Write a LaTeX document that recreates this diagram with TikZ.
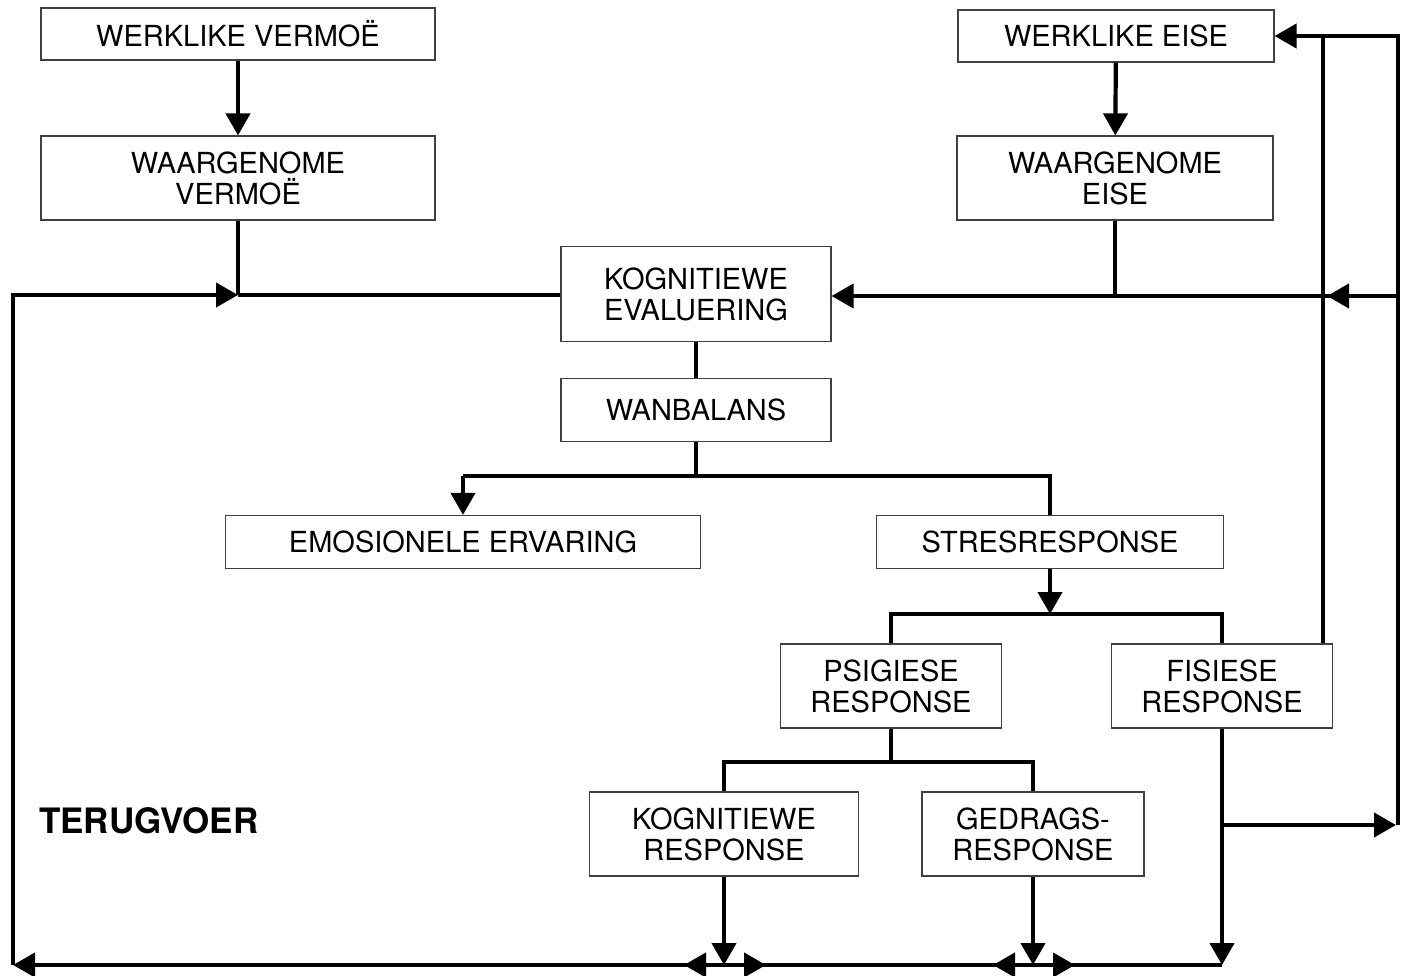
\documentclass[tikz,border=0pt]{standalone}
\usepackage{fontspec}
\setmainfont{TeX Gyre Heros}
\usetikzlibrary{arrows.meta,calc}

\begin{document}
\begin{tikzpicture}[x=1pt,y=-1pt,
        box/.style={draw=black!75,line width=1.2pt,inner sep=0pt,align=center,
                    font=\fontsize{29}{31}\selectfont},
        line/.style={line width=4.2pt},
        arr/.style={line,-{Triangle[length=22pt,width=24pt]}}]
        \useasboundingbox (0,0) rectangle (1410,976);

        \node[box,minimum width=394pt,minimum height=52pt] (wvermoe) at (238,34) {WERKLIKE VERMOË};
        \node[box,minimum width=394pt,minimum height=84pt] (pvermoe) at (238,178) {WAARGENOME\\VERMOË};
        \node[box,minimum width=316pt,minimum height=52pt] (weise) at (1116,36) {WERKLIKE EISE};
        \node[box,minimum width=316pt,minimum height=84pt] (peise) at (1115,178) {WAARGENOME\\EISE};
        \node[box,minimum width=270pt,minimum height=95pt] (evaluering) at (696,294) {KOGNITIEWE\\EVALUERING};
        \node[box,minimum width=270pt,minimum height=63pt] (wanbalans) at (696,410) {WANBALANS};
        \node[box,minimum width=475pt,minimum height=53pt] (emosie) at (463,542) {EMOSIONELE ERVARING};
        \node[box,minimum width=347pt,minimum height=53pt] (stres) at (1050,542) {STRESRESPONSE};
        \node[box,minimum width=221pt,minimum height=84pt] (psig) at (891,686) {PSIGIESE\\RESPONSE};
        \node[box,minimum width=221pt,minimum height=84pt] (fis) at (1222,686) {FISIESE\\RESPONSE};
        \node[box,minimum width=269pt,minimum height=84pt] (kresp) at (724,834) {KOGNITIEWE\\RESPONSE};
        \node[box,minimum width=222pt,minimum height=84pt] (gedrag) at (1033,834) {GEDRAGS-\\RESPONSE};
        \node[font=\fontsize{35}{38}\selectfont\bfseries,anchor=west,inner sep=0pt] (terugvoer) at (39,821) {TERUGVOER};

        \coordinate (tl) at (13,295);
        \coordinate (bl) at (13,965);
        \coordinate (rt) at (1398,36);
        \coordinate (rm) at (1398,296);
        \coordinate (rb) at (1398,825);
        \coordinate (fx) at (1323,36);
        \coordinate (wsplit) at (696,476);
        \coordinate (ssplit) at (1050,614);
        \coordinate (psplit) at (891,762);

        \draw[arr] (wvermoe) -- (pvermoe);
        \draw[arr] (weise) -- (peise);

        % terugvoer links
        \draw[line] (pvermoe.south) -- (pvermoe.south |- tl);
        \draw[arr] (bl) -- (tl) -- (pvermoe.south |- tl);
        \draw[line] (pvermoe.south |- tl) -- (evaluering.west |- tl);

        % terugvoer regs
        \draw[line] (peise.south) -- (peise.south |- rm);
        \draw[arr] (rm) -- (evaluering.east |- rm);
        \draw[arr] (rm) -- ($(fx |- rm)+(4,0)$);
        \draw[arr] (rb) -- (rt) -- (weise.east |- rt);
        \draw[line] (fx |- fis.north) -- (fx);

        \draw[line] (evaluering) -- (wanbalans);
        \draw[line] (wanbalans.south) -- (wsplit);
        \draw[line] (emosie.north |- wsplit) -- (stres.north |- wsplit) -- (stres.north);
        \draw[arr] (emosie.north |- wsplit) -- (emosie.north);

        \draw[arr] (stres.south) -- (ssplit);
        \draw[line] (psig.north) -- (psig.north |- ssplit) -- (fis.north |- ssplit) -- (fis.north);

        \draw[line] (psig.south) -- (psplit);
        \draw[line] (kresp.north) -- (kresp.north |- psplit) -- (gedrag.north |- psplit) -- (gedrag.north);

        % onderste lyn
        \draw[arr] (fis.south |- bl) -- (bl);
        \draw[arr] (kresp.south) -- (kresp.south |- bl);
        \draw[arr] (gedrag.south) -- (gedrag.south |- bl);
        \draw[arr] (fis.south) -- (fis.south |- bl);
        \draw[arr] (fis.south |- rb) -- ($(rb)+(-2,0)$);
        \draw[arr] (kresp.south |- bl) -- ++(-40,0);
        \draw[arr] (kresp.south |- bl) -- ++(42,0);
        \draw[arr] (gedrag.south |- bl) -- ++(-40,0);
        \draw[arr] (gedrag.south |- bl) -- ++(42,0);
\end{tikzpicture}
\end{document}
